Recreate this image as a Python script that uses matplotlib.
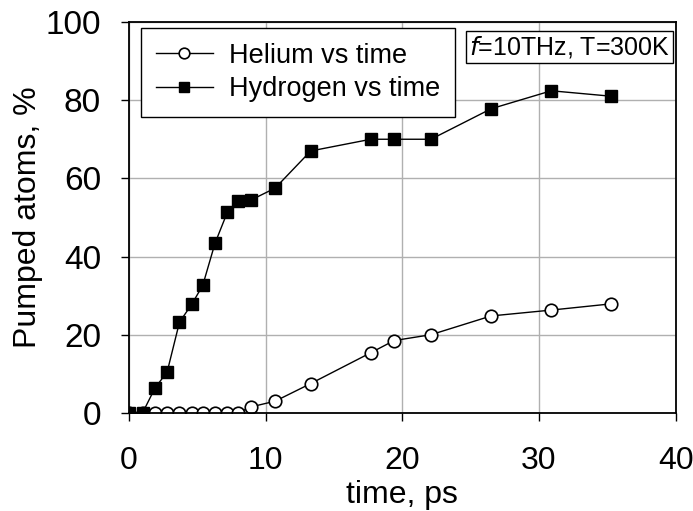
import matplotlib
matplotlib.use('Agg')
import matplotlib.pyplot as plt

plt.rcParams['font.family'] = ['Liberation Sans', 'DejaVu Sans']

# data
t_he = [0, 1.0, 1.9, 2.8, 3.7, 4.6, 5.4, 6.3, 7.2, 8.0, 8.9, 10.7, 13.3, 17.7, 19.4, 22.1, 26.5, 30.9, 35.3]
helium = [0, 0, 0, 0, 0, 0, 0, 0, 0, 0, 1.5, 3.0, 7.5, 15.4, 18.5, 20.0, 24.8, 26.3, 27.9]
t_h = [0, 1.0, 1.9, 2.8, 3.7, 4.6, 5.4, 6.3, 7.2, 8.0, 8.9, 10.7, 13.3, 17.7, 19.4, 22.1, 26.5, 30.9, 35.3]
hydrogen = [0, 0, 6.3, 10.5, 23.2, 27.8, 32.6, 43.4, 51.3, 54.3, 54.4, 57.5, 67.0, 70.0, 70.0, 70.0, 77.8, 82.4, 81.0]

fig = plt.figure(figsize=(6.93, 5.11), dpi=100)
ax = fig.add_axes([0.186, 0.192, 0.789, 0.765])

ax.plot(t_he, helium, color='black', lw=1, marker='o', ms=9, mfc='white', mec='black', mew=1.2, label='Helium vs time')
ax.plot(t_h, hydrogen, color='black', lw=1, marker='s', ms=9, mfc='black', mec='black', label='Hydrogen vs time')

ax.set_xlim(0, 40)
ax.set_ylim(0, 100)
ax.set_xticks([0, 10, 20, 30, 40])
ax.set_yticks([0, 20, 40, 60, 80, 100])
ax.grid(True, color='#b0b0b0', lw=1)
ax.set_axisbelow(True)
ax.tick_params(labelsize=24, length=6, width=1)
ax.tick_params(axis='y', pad=14)
ax.tick_params(axis='x', pad=18, labelsize=23)
for s in ax.spines.values():
    s.set_linewidth(1.3)
ax.set_xlabel('time, ps', fontsize=23, labelpad=3)
ax.set_ylabel('Pumped atoms, %', fontsize=23, labelpad=2)

leg = ax.legend(loc='upper left', fontsize=19.5, frameon=True, fancybox=False,
                edgecolor='black', framealpha=1, borderpad=0.55, handlelength=2.1,
                handletextpad=0.6, labelspacing=0.28, markerscale=0.85,
                bbox_to_anchor=(0.022, 0.985), borderaxespad=0)
leg.get_frame().set_linewidth(1)

ax.text(0.99, 0.97, r'$\it{f}$=10THz, T=300K', transform=ax.transAxes, ha='right', va='top',
        fontsize=18, bbox=dict(boxstyle='square,pad=0.12', fc='white', ec='black', lw=1))

fig.savefig('out.png', dpi=100)
